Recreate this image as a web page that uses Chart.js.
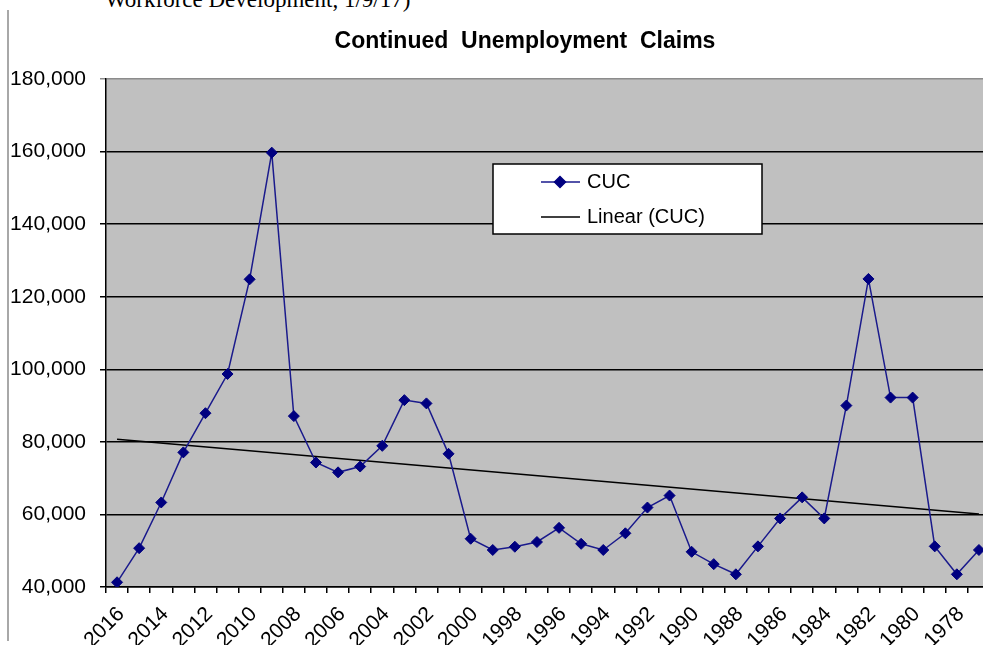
<!DOCTYPE html>
<html>
<head>
<meta charset="utf-8">
<title>Continued Unemployment Claims</title>
<script src="https://cdn.jsdelivr.net/npm/chart.js"></script>
<style>
    html, body { margin: 0; padding: 0; background: #fff; overflow: hidden; }
    body { width: 983px; height: 645px; position: relative; }
    .source-note {
        position: absolute; left: 105px; top: -12px;
        font-family: "Liberation Serif", serif; font-size: 23px; line-height: 24px;
        color: #000; white-space: nowrap;
    }
    .frame-edge {
        position: absolute; left: 7px; top: 10px; bottom: 4px; width: 2px;
        background: #a8a8a8;
    }
    .chart-box { position: absolute; left: 0; top: 0; width: 1000px; height: 645px; }
</style>
</head>
<body>
<div class="source-note">Workforce Development, 1/9/17)</div>
<div class="frame-edge"></div>
<div class="chart-box"><canvas id="cuc-chart"></canvas></div>

<script>
// Years, newest first (as on the original axis)
const years = ['2016', '2015', '2014', '2013', '2012', '2011', '2010', '2009', '2008', '2007',
    '2006', '2005', '2004', '2003', '2002', '2001', '2000', '1999', '1998', '1997',
    '1996', '1995', '1994', '1993', '1992', '1991', '1990', '1989', '1988', '1987',
    '1986', '1985', '1984', '1983', '1982', '1981', '1980', '1979', '1978', '1977'];

// Continued unemployment claims
const cucValues = [41300, 50700, 63300, 77100, 87900, 98700, 124800, 159700, 87100, 74300,
    71600, 73200, 78900, 91500, 90600, 76700, 53300, 50200, 51100, 52400,
    56300, 51900, 50200, 54800, 61900, 65200, 49700, 46300, 43500, 51200,
    58900, 64700, 58900, 90000, 124900, 92200, 92200, 51200, 43500, 50200];

// Linear trend: only its two ends are read, the line joins them
const trendStart = 80700;
const trendEnd = 60100;

const yTicks = [40000, 60000, 80000, 100000, 120000, 140000, 160000, 180000];

const chartTitle = 'Continued  Unemployment  Claims';
const FONT = '"Liberation Sans", Arial, sans-serif';

document.addEventListener('DOMContentLoaded', function() {
    renderChart();
});

// grey plot area, as in the Excel chart
const plotBackground = {
    id: 'plotBackground',
    beforeDraw(chart) {
        const { ctx, chartArea } = chart;
        ctx.save();
        ctx.fillStyle = '#c0c0c0';
        ctx.fillRect(chartArea.left, chartArea.top, chartArea.right - chartArea.left, chartArea.bottom - chartArea.top);
        ctx.restore();
    }
};

// title: the original chart is wider than the visible window, so it is centred off to the right
const offsetTitle = {
    id: 'offsetTitle',
    afterDraw(chart) {
        const { ctx, chartArea } = chart;
        ctx.save();
        ctx.font = 'bold 23px ' + FONT;
        ctx.fillStyle = '#000';
        ctx.textAlign = 'center';
        ctx.textBaseline = 'middle';
        ctx.fillText(chartTitle, chartArea.left + 419, 42);
        ctx.restore();
    }
};

// boxed legend sitting inside the plot area
const boxLegend = {
    id: 'boxLegend',
    afterDatasetsDraw(chart) {
        const { ctx, chartArea } = chart;
        const x = chartArea.left + 387;
        const y = chartArea.top + 85;
        const w = 269;
        const h = 70;
        ctx.save();
        ctx.fillStyle = '#fff';
        ctx.fillRect(x, y, w, h);
        ctx.strokeStyle = '#000';
        ctx.lineWidth = 1.5;
        ctx.strokeRect(x, y, w, h);

        ctx.font = '20px ' + FONT;
        ctx.textBaseline = 'middle';
        chart.data.datasets.forEach((ds, i) => {
            const ly = y + 18 + i * 35;
            ctx.strokeStyle = ds.borderColor;
            ctx.lineWidth = 1.5;
            ctx.beginPath();
            ctx.moveTo(x + 48, ly);
            ctx.lineTo(x + 87, ly);
            ctx.stroke();
            if (ds.pointRadius > 0) {
                ctx.fillStyle = ds.pointBackgroundColor;
                ctx.strokeStyle = ds.pointBorderColor;
                Chart.helpers.drawPoint(ctx, { pointStyle: ds.pointStyle, radius: ds.pointRadius, borderWidth: 1 }, x + 67, ly);
            }
            ctx.fillStyle = '#000';
            ctx.fillText(ds.label, x + 94, ly);
        });
        ctx.restore();
    }
};

function renderChart() {
    const ctx = document.getElementById('cuc-chart').getContext('2d');
    const trendValues = years.map((y, i) => i === 0 ? trendStart : (i === years.length - 1 ? trendEnd : null));

    new Chart(ctx, {
        type: 'line',
        data: {
            labels: years,
            datasets: [{
                label: 'CUC',
                data: cucValues,
                borderColor: '#1a1a8c',
                borderWidth: 1.5,
                pointStyle: 'rectRot',
                pointRadius: 5.5,
                pointBackgroundColor: '#000080',
                pointBorderColor: '#000080',
                pointBorderWidth: 1,
                tension: 0
            }, {
                label: 'Linear (CUC)',
                data: trendValues,
                borderColor: '#000',
                borderWidth: 1.5,
                pointRadius: 0,
                spanGaps: true
            }]
        },
        options: {
            responsive: true,
            maintainAspectRatio: false,
            animation: false,
            layout: { padding: { left: 0, right: 10, top: 79, bottom: 0 } },
            plugins: {
                legend: { display: false },
                tooltip: { enabled: false },
                title: { display: false }
            },
            scales: {
                x: {
                    offset: true,
                    grid: {
                        offset: true,
                        drawOnChartArea: false,
                        color: '#000',
                        lineWidth: 1.5,
                        tickLength: 6
                    },
                    border: { color: '#000', width: 1.5 },
                    ticks: {
                        autoSkip: false,
                        minRotation: 45,
                        maxRotation: 45,
                        color: '#000',
                        padding: 9,
                        labelOffset: 4,
                        font: { family: FONT, size: 21 },
                        callback: function(value, index) {
                            return index % 2 === 0 ? this.getLabelForValue(value) : '';
                        }
                    },
                    afterFit: function(scale) {
                        scale.height = 58;
                        scale.paddingLeft = 0;
                        scale.paddingRight = 0;
                    }
                },
                y: {
                    min: yTicks[0],
                    max: yTicks[yTicks.length - 1],
                    grid: {
                        color: c => c.tick && c.tick.value === 180000 ? '#8c8c8c' : '#000',
                        lineWidth: 1.5,
                        tickLength: 6
                    },
                    border: { color: '#000', width: 1.5 },
                    afterBuildTicks: function(scale) {
                        scale.ticks = yTicks.map(v => ({ value: v }));
                    },
                    ticks: {
                        color: '#000',
                        padding: 14,
                        font: { family: FONT, size: 21 },
                        callback: value => value.toLocaleString('en-US')
                    },
                    afterFit: function(scale) { scale.width = 106; }
                }
            }
        },
        plugins: [plotBackground, offsetTitle, boxLegend]
    });
}
</script>
</body>
</html>
